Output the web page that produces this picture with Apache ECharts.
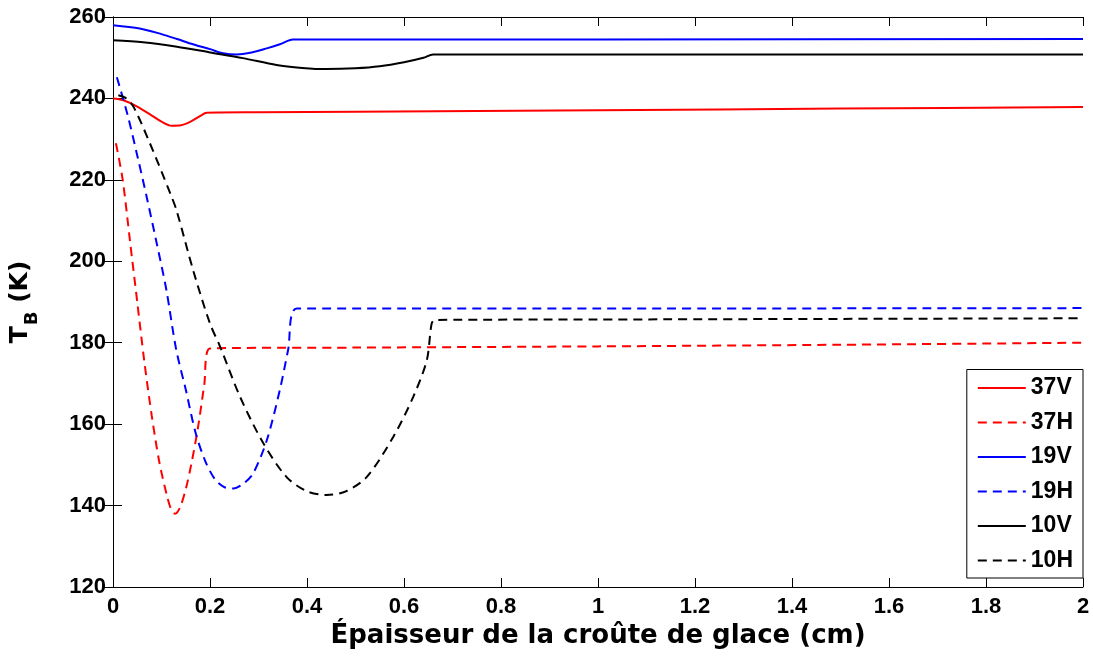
<!DOCTYPE html>
<html><head><meta charset="utf-8">
<script src="https://cdn.jsdelivr.net/npm/echarts@6/dist/echarts.min.js"></script>
<style>html,body{margin:0;padding:0;background:#fff}#c{width:1093px;height:656px}</style>
</head><body><div id="c"></div>
<script>
// Data (x in cm, y in K)
const x37V = [0, 0.02, 0.05, 0.08, 0.1, 0.121, 0.14, 0.16, 0.18, 0.193, 0.3, 0.5, 1.0, 1.5, 2.0];
const y37V = [240, 239.6, 238, 235.8, 234.3, 233.3, 233.4, 234.3, 235.7, 236.5, 236.6, 236.7, 237.1, 237.5, 237.9];
const x37H = [0.006, 0.02, 0.035, 0.05, 0.065, 0.08, 0.095, 0.11, 0.12, 0.128, 0.138, 0.15, 0.162, 0.175, 0.188, 0.2, 0.5, 1.0, 1.5, 2.0];
const y37H = [229, 220, 205, 190, 175, 162, 151, 143, 139, 138, 139.5, 144, 150.5, 159, 169.5, 178.6, 178.8, 179.1, 179.5, 180];
const x19V = [0, 0.055, 0.1, 0.132, 0.165, 0.2, 0.227, 0.255, 0.283, 0.317, 0.344, 0.371, 1.0, 2.0];
const y19V = [258.0, 257.2, 255.8, 254.6, 253.3, 252.1, 251.1, 250.8, 251.2, 252.3, 253.3, 254.5, 254.5, 254.6];
const x19H = [0.008, 0.03, 0.05, 0.07, 0.09, 0.11, 0.13, 0.15, 0.17, 0.19, 0.21, 0.23, 0.248, 0.27, 0.289, 0.317, 0.344, 0.361, 0.379, 1.0, 2.0];
const y19H = [245.2, 236, 226, 215.5, 204.5, 193, 178.5, 168.5, 158, 151, 146.5, 144.5, 144.2, 145.5, 147.9, 156, 168.4, 178.2, 188.4, 188.4, 188.5];
const x10V = [0, 0.062, 0.132, 0.2, 0.268, 0.337, 0.39, 0.44, 0.5, 0.55, 0.6, 0.64, 0.66, 1.0, 2.0];
const y10V = [254.3, 253.8, 252.7, 251.3, 249.9, 248.2, 247.5, 247.2, 247.4, 247.9, 248.9, 250.0, 250.8, 250.8, 250.8];
const x10H = [0.011, 0.025, 0.042, 0.076, 0.118, 0.131, 0.166, 0.2, 0.221, 0.262, 0.31, 0.358, 0.4, 0.44, 0.48, 0.523, 0.578, 0.619, 0.647, 0.657, 0.664, 1.0, 2.0];
const y10H = [240.8, 240.2, 238, 229, 216.7, 212.5, 197.5, 184.7, 179, 166.7, 155.3, 147, 143.5, 142.6, 143.5, 147, 156.9, 166.7, 175.7, 184.7, 185.6, 185.7, 186];
const xTicks = [0, 0.2, 0.4, 0.6, 0.8, 1, 1.2, 1.4, 1.6, 1.8, 2];
const yTicks = [120, 140, 160, 180, 200, 220, 240, 260];

const zip = (xs, ys) => xs.map((v, i) => [v, ys[i]]);
const FONT = 'Liberation Sans';
const TFONT = 'DejaVu Sans';
function mk(name, xs, ys, color, dashed) {
  return {
    name, type: 'line', data: zip(xs, ys), symbol: 'none', smooth: 0.3,
    lineStyle: { color, width: 2, type: dashed ? [9, 6] : 'solid' },
    itemStyle: { color }, z: dashed ? 3 : 2
  };
}
const chart = echarts.init(document.getElementById('c'));
const axLine = { show: true, lineStyle: { color: '#000', width: 1 } };
const tick = { inside: true, length: 9, lineStyle: { color: '#000' } };
chart.setOption({
  animation: false,
  grid: { left: 113, right: 10, top: 17, bottom: 69, show: false },
  xAxis: [{
    type: 'value', min: xTicks[0], max: xTicks[xTicks.length - 1], interval: 0.2,
    axisLine: axLine, axisTick: tick, splitLine: { show: false },
    axisLabel: { color: '#000', fontFamily: FONT, fontWeight: 'bold', fontSize: 22, margin: 9,
      formatter: v => String(Math.round(v * 10) / 10) },
    name: 'Épaisseur de la croûte de glace (cm)', nameLocation: 'middle', nameGap: 36,
    nameTextStyle: { color: '#000', fontFamily: TFONT, fontWeight: 'bold', fontSize: 26 }
  }, {
    type: 'value', position: 'top', min: 0, max: 2, interval: 0.2,
    axisLine: axLine, axisTick: tick, axisLabel: { show: false }, splitLine: { show: false }
  }],
  yAxis: [{
    type: 'value', min: yTicks[0], max: yTicks[yTicks.length - 1], interval: 20,
    axisLine: axLine, axisTick: tick, splitLine: { show: false },
    axisLabel: { color: '#000', fontFamily: FONT, fontWeight: 'bold', fontSize: 22, margin: 7 },
    name: '{t|T}{b|B}{t| (K)}', nameLocation: 'middle', nameGap: 72, nameRotate: 90,
    nameTextStyle: { color: '#000', fontFamily: TFONT, fontWeight: 'bold', fontSize: 25,
      rich: {
        t: { fontFamily: TFONT, fontWeight: 'bold', fontSize: 25, color: '#000', verticalAlign: 'top' },
        b: { fontFamily: TFONT, fontWeight: 'bold', fontSize: 18, color: '#000', verticalAlign: 'top', padding: [15, 0, 0, 1] }
      } }
  }, {
    type: 'value', position: 'right', min: 120, max: 260, interval: 20,
    axisLine: axLine, axisTick: tick, axisLabel: { show: false }, splitLine: { show: false }
  }],
  legend: {
    orient: 'vertical', right: 10, bottom: 78, padding: [7, 10, 6, 10],
    backgroundColor: '#fff', borderColor: '#000', borderWidth: 1, borderRadius: 0,
    itemWidth: 48, itemHeight: 14, itemGap: 11.5,
    itemStyle: { opacity: 0 },
    textStyle: { color: '#000', fontFamily: FONT, fontWeight: 'bold', fontSize: 23 },
    data: ['37V', '37H', '19V', '19H', '10V', '10H']
  },
  series: [
    mk('37V', x37V, y37V, '#ff0000', false),
    mk('37H', x37H, y37H, '#ff0000', true),
    mk('19V', x19V, y19V, '#0000ff', false),
    mk('19H', x19H, y19H, '#0000ff', true),
    mk('10V', x10V, y10V, '#000000', false),
    mk('10H', x10H, y10H, '#000000', true)
  ]
});
</script></body></html>
